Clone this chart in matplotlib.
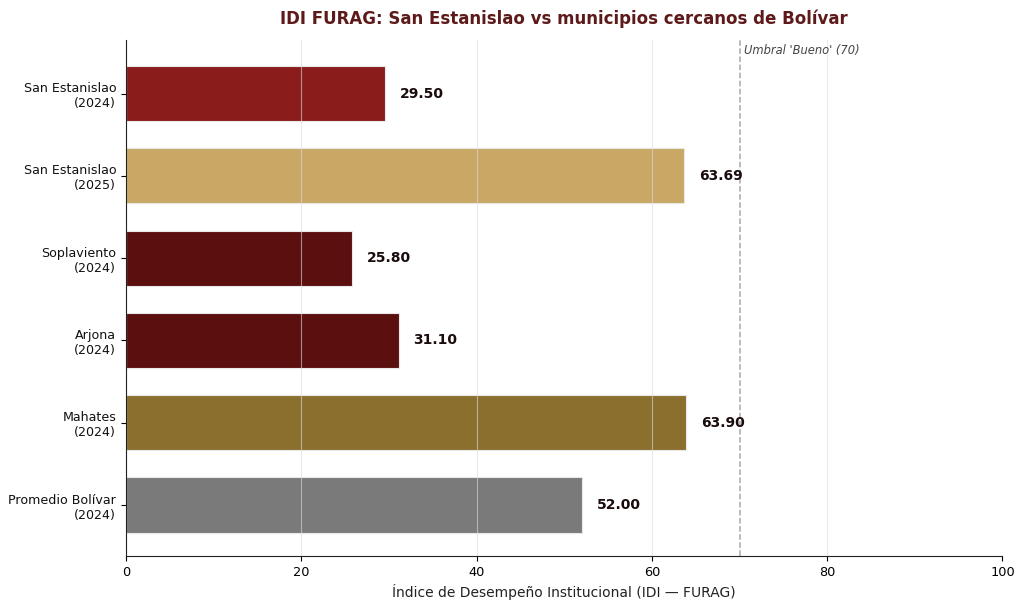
import matplotlib
matplotlib.use('Agg')
import matplotlib.pyplot as plt

labels = ['San Estanislao\n(2024)', 'San Estanislao\n(2025)', 'Soplaviento\n(2024)',
          'Arjona\n(2024)', 'Mahates\n(2024)', 'Promedio Bolívar\n(2024)']
values = [29.50, 63.69, 25.80, 31.10, 63.90, 52.00]
colors = ['#8B1C1C', '#C8A864', '#5C0F0F', '#5C0F0F', '#8B6F2E', '#7A7A7A']
umbral = 70

fig = plt.figure(figsize=(10.24, 6.09), dpi=100)
ax = fig.add_axes([0.123, 0.087, 0.856, 0.847])

ypos = list(range(len(labels)))
ax.barh(ypos, values, color=colors, height=0.67, edgecolor='#e8e8e8', linewidth=0.8, zorder=2)
ax.set_yticks(ypos)
ax.set_yticklabels(labels, fontsize=9.1, color='#111111')

for y, v in zip(ypos, values):
    ax.text(v + 1.7, y, f'{v:.2f}', va='center', ha='left', fontsize=10,
            fontweight='bold', color='#1a0c0c')

ax.axvline(umbral, color='#aaaaaa', linestyle='--', linewidth=1.1, zorder=1)
ax.text(umbral + 0.5, -0.53, "Umbral 'Bueno' (70)", fontsize=8.3, style='italic',
        color='#444444', va='center', ha='left')

ax.set_xlim(0, 100)
ax.set_ylim(5.62, -0.65)
ax.grid(axis='x', color='#dddddd', linewidth=0.8, alpha=0.6, zorder=3)
ax.set_axisbelow(False)
for s in ['top', 'right']:
    ax.spines[s].set_visible(False)
for s in ['left', 'bottom']:
    ax.spines[s].set_zorder(5)
    ax.spines[s].set_color('#222222')
ax.tick_params(axis='x', labelsize=9.3)
ax.set_xlabel('Índice de Desempeño Institucional (IDI — FURAG)', fontsize=10, labelpad=4, color='#222222')
ax.set_title('IDI FURAG: San Estanislao vs municipios cercanos de Bolívar', fontsize=12,
             fontweight='bold', color='#5E1A1A', pad=12)

fig.savefig('out.png', dpi=100)
